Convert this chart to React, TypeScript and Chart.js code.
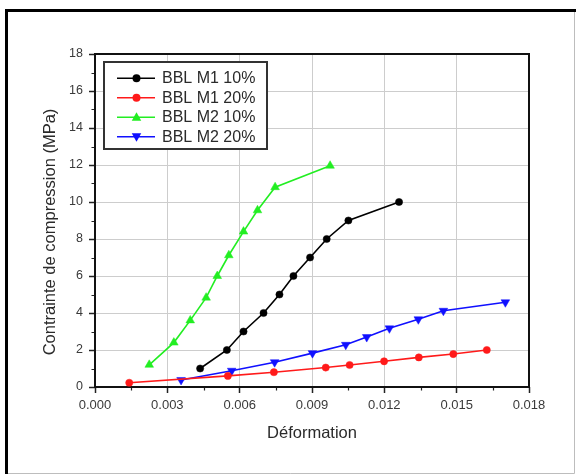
import React, { useEffect, useRef } from 'react';
import { Chart, registerables } from 'chart.js';

Chart.register(...registerables);

const FONT = "'Liberation Sans', Arial, Helvetica, sans-serif";

const seriesLabels = ['BBL M1 10%', 'BBL M1 20%', 'BBL M2 10%', 'BBL M2 20%'];
const seriesColors = ['#000000', '#ff1a1a', '#22ee22', '#1010ff'];

const m1_10_x = [0.00436, 0.00547, 0.00616, 0.00699, 0.00765, 0.00823, 0.00892, 0.00961, 0.01051, 0.01261];
const m1_10_y = [1.0, 2.0, 3.0, 4.0, 5.0, 6.0, 7.0, 8.0, 9.0, 10.0];

const m1_20_x = [0.00142, 0.00551, 0.00742, 0.00957, 0.01056, 0.01199, 0.01343, 0.01486, 0.01625];
const m1_20_y = [0.23, 0.6, 0.8, 1.05, 1.19, 1.39, 1.6, 1.78, 2.0];

const m2_10_x = [0.00225, 0.00327, 0.00395, 0.00461, 0.00507, 0.00555, 0.00616, 0.00674, 0.00747, 0.00975];
const m2_10_y = [1.2, 2.4, 3.6, 4.83, 6.0, 7.12, 8.4, 9.55, 10.8, 11.96];

const m2_20_x = [0.00357, 0.00567, 0.00745, 0.00902, 0.0104, 0.01127, 0.01221, 0.01341, 0.01445, 0.01702];
const m2_20_y = [0.38, 0.88, 1.34, 1.83, 2.28, 2.7, 3.17, 3.66, 4.12, 4.58];

const xTickValues = [0, 0.003, 0.006, 0.009, 0.012, 0.015, 0.018];
const xTickLabels = ['0.000', '0.003', '0.006', '0.009', '0.012', '0.015', '0.018'];
const xMinorTicks = [0.0015, 0.0045, 0.0075, 0.0105, 0.0135, 0.0165];
const yTickValues = [0, 2, 4, 6, 8, 10, 12, 14, 16, 18];
const yTickLabels = ['0', '2', '4', '6', '8', '10', '12', '14', '16', '18'];
const yMinorTicks = [1, 3, 5, 7, 9, 11, 13, 15, 17];

const xTitle = 'Déformation';
const yTitle = 'Contrainte de compression (MPa)';

const framePlugin = {
  id: 'frame',
  beforeDraw(chart: any) {
    const ctx = chart.ctx;
    ctx.save();
    ctx.fillStyle = '#ffffff';
    ctx.fillRect(0, 0, chart.width, chart.height);
    ctx.strokeStyle = '#bdbdbd';
    ctx.lineWidth = 1;
    ctx.beginPath();
    ctx.moveTo(574.5, 10);
    ctx.lineTo(574.5, 473.5);
    ctx.lineTo(6, 473.5);
    ctx.stroke();
    ctx.strokeStyle = '#000000';
    ctx.lineWidth = 3;
    ctx.beginPath();
    ctx.moveTo(6.5, 474);
    ctx.lineTo(6.5, 10.5);
    ctx.lineTo(576, 10.5);
    ctx.stroke();
    ctx.restore();
  },
};

const areaPlugin = {
  id: 'area',
  beforeDatasetsDraw(chart: any) {
    const { ctx, chartArea } = chart;
    const xs = chart.scales.x;
    const ys = chart.scales.y;
    ctx.save();
    ctx.strokeStyle = '#222';
    ctx.lineWidth = 1.2;
    ctx.beginPath();
    xMinorTicks.forEach((v) => {
      const px = Math.round(xs.getPixelForValue(v)) + 0.5;
      ctx.moveTo(px, chartArea.bottom);
      ctx.lineTo(px, chartArea.bottom + 3.5);
    });
    yMinorTicks.forEach((v) => {
      const py = Math.round(ys.getPixelForValue(v)) + 0.5;
      ctx.moveTo(chartArea.left, py);
      ctx.lineTo(chartArea.left - 3.5, py);
    });
    ctx.stroke();
    ctx.strokeStyle = '#111';
    ctx.lineWidth = 2;
    ctx.strokeRect(chartArea.left, chartArea.top, chartArea.right - chartArea.left, chartArea.bottom - chartArea.top);
    // y axis title
    ctx.translate(50, 232);
    ctx.rotate(-Math.PI / 2);
    ctx.fillStyle = '#2a2a2a';
    ctx.font = `16.5px ${FONT}`;
    ctx.textAlign = 'center';
    ctx.textBaseline = 'middle';
    ctx.fillText(yTitle, 0, 0);
    ctx.restore();
  },
};

function drawMarker(ctx: CanvasRenderingContext2D, style: string, x: number, y: number, r: number, color: string) {
  ctx.fillStyle = color;
  ctx.beginPath();
  if (style === 'circle') {
    ctx.arc(x, y, r, 0, Math.PI * 2);
  } else if (style === 'triangle') {
    ctx.moveTo(x, y - r);
    ctx.lineTo(x + r * 0.95, y + r * 0.7);
    ctx.lineTo(x - r * 0.95, y + r * 0.7);
    ctx.closePath();
  } else {
    ctx.moveTo(x, y + r);
    ctx.lineTo(x + r * 0.95, y - r * 0.7);
    ctx.lineTo(x - r * 0.95, y - r * 0.7);
    ctx.closePath();
  }
  ctx.fill();
}

const legendPlugin = {
  id: 'insideLegend',
  afterDatasetsDraw(chart: any) {
    const ctx = chart.ctx;
    const left = 104;
    const top = 62;
    const w = 163;
    const h = 87;
    ctx.save();
    ctx.fillStyle = '#ffffff';
    ctx.fillRect(left, top, w, h);
    ctx.strokeStyle = '#333';
    ctx.lineWidth = 2;
    ctx.strokeRect(left, top, w, h);
    const styles = ['circle', 'circle', 'triangle', 'triangleDown'];
    chart.data.datasets.forEach((ds: any, i: number) => {
      const y = 78.3 + i * 19.5;
      ctx.strokeStyle = ds.borderColor;
      ctx.lineWidth = 1.6;
      ctx.beginPath();
      ctx.moveTo(117, y);
      ctx.lineTo(155, y);
      ctx.stroke();
      drawMarker(ctx, styles[i], 136.5, y, i < 2 ? 4 : 5, ds.borderColor);
      ctx.fillStyle = '#2a2a2a';
      ctx.font = `16px ${FONT}`;
      ctx.textBaseline = 'middle';
      ctx.textAlign = 'left';
      ctx.fillText(ds.label, 162, y + 0.5);
    });
    ctx.restore();
  },
};

export default function App() {
  const ref = useRef<HTMLCanvasElement>(null);
  useEffect(() => {
    const canvas = ref.current!;
    const mk = (xs: number[], ys: number[]) => xs.map((x, i) => ({ x, y: ys[i] }));
    const base = [
      { data: mk(m1_10_x, m1_10_y), pointStyle: 'circle', pointRadius: 3.6, pointRotation: 0 },
      { data: mk(m1_20_x, m1_20_y), pointStyle: 'circle', pointRadius: 3.6, pointRotation: 0 },
      { data: mk(m2_10_x, m2_10_y), pointStyle: 'triangle', pointRadius: 5, pointRotation: 0 },
      { data: mk(m2_20_x, m2_20_y), pointStyle: 'triangle', pointRadius: 5, pointRotation: 180 },
    ];
    const datasets = base.map((d, i) => ({
      ...d,
      label: seriesLabels[i],
      borderColor: seriesColors[i],
      backgroundColor: seriesColors[i],
      pointBackgroundColor: seriesColors[i],
      pointBorderColor: seriesColors[i],
      pointBorderWidth: 0.5,
      pointHoverRadius: d.pointRadius,
      showLine: true,
      borderWidth: 1.6,
      tension: 0,
    }));
    const chart = new Chart(canvas, {
      type: 'scatter',
      data: { datasets: datasets as any },
      options: {
        responsive: false,
        animation: false,
        events: [],
        layout: { padding: { left: 40, top: 54, right: 47, bottom: 32 } },
        plugins: { legend: { display: false }, tooltip: { enabled: false } },
        scales: {
          x: {
            type: 'linear',
            min: 0,
            max: 0.018,
            afterBuildTicks: (s: any) => {
              s.ticks = xTickValues.map((v) => ({ value: v }));
            },
            afterFit: (s: any) => {
              s.height = 56;
            },
            ticks: {
              callback: (_v: any, i: number) => xTickLabels[i],
              font: { size: 13, family: FONT },
              color: '#3a3a3a',
              padding: 5,
              maxRotation: 0,
              autoSkip: false,
            },
            grid: {
              color: '#cdcdcd',
              lineWidth: 1,
              drawTicks: true,
              tickLength: 6,
              tickColor: '#222',
              tickWidth: 1.5,
            },
            border: { display: false },
            title: {
              display: true,
              text: xTitle,
              font: { size: 16.5, family: FONT },
              color: '#2a2a2a',
              padding: 0,
            },
          },
          y: {
            type: 'linear',
            min: 0,
            max: 18,
            afterBuildTicks: (s: any) => {
              s.ticks = yTickValues.map((v) => ({ value: v }));
            },
            afterFit: (s: any) => {
              s.width = 55;
            },
            ticks: {
              callback: (_v: any, i: number) => yTickLabels[i],
              font: { size: 12.5, family: FONT },
              color: '#3a3a3a',
              padding: 6,
              autoSkip: false,
            },
            grid: {
              color: '#cdcdcd',
              lineWidth: 1,
              drawTicks: true,
              tickLength: 6,
              tickColor: '#222',
              tickWidth: 1.5,
            },
            border: { display: false },
            title: { display: false },
          },
        },
      },
      plugins: [framePlugin, areaPlugin, legendPlugin],
    });
    return () => chart.destroy();
  }, []);
  return (
    <div style={{ position: 'fixed', left: 0, top: 0, width: 576, height: 475, background: '#fff' }}>
      <canvas ref={ref} width={576} height={475} style={{ display: 'block', width: 576, height: 475 }} />
    </div>
  );
}
